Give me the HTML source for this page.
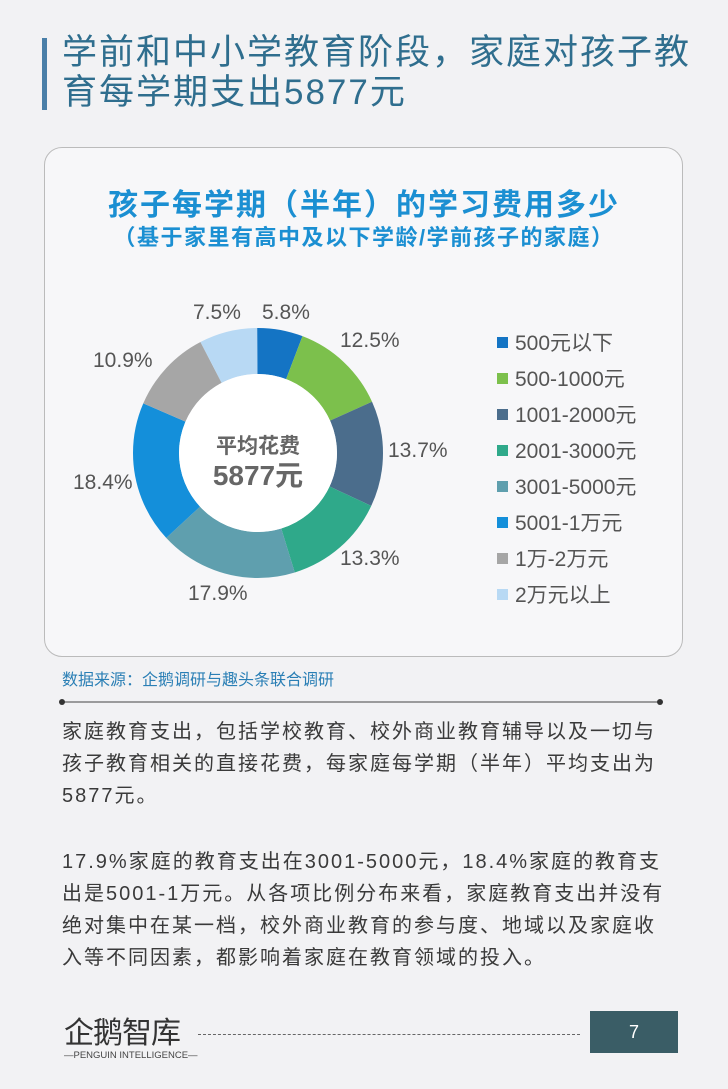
<!DOCTYPE html><html><head><meta charset="utf-8"><style>
body{margin:0;width:728px;height:1089px;background:#f2f2f4;position:relative;overflow:hidden;font-family:"Liberation Sans","Noto Sans CJK SC",sans-serif}
.a{position:absolute;white-space:nowrap}
.t{left:62px;font-size:35px;color:#2f6e8e;line-height:40px;letter-spacing:2px}
.lg{left:497px;font-size:21px;color:#555}
.lg i{display:inline-block;width:11px;height:11px;margin-right:7px;vertical-align:2px}
.p{left:62px;font-size:20px;color:#3a3a3a;line-height:32px;letter-spacing:2px}
.pc{font-size:21px;color:#555}
</style></head><body>
<div class="a" style="left:42px;top:38px;width:5px;height:72px;background:#4a7fa8"></div>
<div class="a t" style="top:33px">学前和中小学教育阶段，家庭对孩子教</div>
<div class="a t" style="top:73px">育每学期支出5877元</div>
<div class="a" style="left:44px;top:147px;width:637px;height:508px;border:1px solid #bbb;border-radius:18px;background:#f7f7f9"></div>
<div class="a" style="left:0;width:728px;text-align:center;top:180px;font-size:30px;font-weight:bold;color:#1b8fd2;letter-spacing:2px">孩子每学期（半年）的学习费用多少</div>
<div class="a" style="left:0;width:728px;text-align:center;top:220px;font-size:22px;font-weight:bold;color:#1b8fd2;letter-spacing:1.5px">（基于家里有高中及以下学龄/学前孩子的家庭）</div>
<svg class="a" style="left:0;top:0" width="728" height="720">
<g transform="rotate(-90 258 453)" fill="none" stroke-width="46">
<circle cx="258" cy="453" r="102" pathLength="100" stroke="#1474c4" stroke-dasharray="5.8 94.2" stroke-dashoffset="0"/>
<circle cx="258" cy="453" r="102" pathLength="100" stroke="#7cc04c" stroke-dasharray="12.5 87.5" stroke-dashoffset="-5.8"/>
<circle cx="258" cy="453" r="102" pathLength="100" stroke="#4b6d8c" stroke-dasharray="13.7 86.3" stroke-dashoffset="-18.3"/>
<circle cx="258" cy="453" r="102" pathLength="100" stroke="#2fa98a" stroke-dasharray="13.3 86.7" stroke-dashoffset="-32"/>
<circle cx="258" cy="453" r="102" pathLength="100" stroke="#5f9fae" stroke-dasharray="17.9 82.1" stroke-dashoffset="-45.3"/>
<circle cx="258" cy="453" r="102" pathLength="100" stroke="#148fda" stroke-dasharray="18.4 81.6" stroke-dashoffset="-63.2"/>
<circle cx="258" cy="453" r="102" pathLength="100" stroke="#a6a6a6" stroke-dasharray="10.9 89.1" stroke-dashoffset="-81.6"/>
<circle cx="258" cy="453" r="102" pathLength="100" stroke="#b8d9f4" stroke-dasharray="7.5 92.5" stroke-dashoffset="-92.5"/>
</g>
<circle cx="258" cy="453" r="79" fill="#fff"/>
<line x1="62" y1="702" x2="660" y2="702" stroke="#444" stroke-width="1"/>
<circle cx="62" cy="702" r="3" fill="#333"/><circle cx="660" cy="702" r="3" fill="#333"/>
</svg>
<div class="a" style="left:198px;width:120px;text-align:center;top:430px;font-size:21px;font-weight:bold;color:#666">平均花费</div>
<div class="a" style="left:193px;width:130px;text-align:center;top:454px;font-size:28px;font-weight:bold;color:#666">5877元</div>
<div class="a pc" style="left:193px;top:301px">7.5%</div>
<div class="a pc" style="left:262px;top:301px">5.8%</div>
<div class="a pc" style="left:340px;top:329px">12.5%</div>
<div class="a pc" style="left:388px;top:439px">13.7%</div>
<div class="a pc" style="left:340px;top:547px">13.3%</div>
<div class="a pc" style="left:188px;top:582px">17.9%</div>
<div class="a pc" style="left:73px;top:471px">18.4%</div>
<div class="a pc" style="left:93px;top:349px">10.9%</div>
<div class="a lg" style="top:327px"><i style="background:#1474c4"></i>500元以下</div>
<div class="a lg" style="top:363px"><i style="background:#7cc04c"></i>500-1000元</div>
<div class="a lg" style="top:399px"><i style="background:#4b6d8c"></i>1001-2000元</div>
<div class="a lg" style="top:435px"><i style="background:#2fa98a"></i>2001-3000元</div>
<div class="a lg" style="top:471px"><i style="background:#5f9fae"></i>3001-5000元</div>
<div class="a lg" style="top:507px"><i style="background:#148fda"></i>5001-1万元</div>
<div class="a lg" style="top:543px"><i style="background:#a6a6a6"></i>1万-2万元</div>
<div class="a lg" style="top:579px"><i style="background:#b8d9f4"></i>2万元以上</div>
<div class="a" style="left:62px;top:666px;font-size:16px;color:#2a7fb5">数据来源：企鹅调研与趣头条联合调研</div>
<div class="a p" style="top:716px">家庭教育支出，包括学校教育、校外商业教育辅导以及一切与<br>孩子教育相关的直接花费，每家庭每学期（半年）平均支出为<br>5877元。</div>
<div class="a p" style="top:846px">17.9%家庭的教育支出在3001-5000元，18.4%家庭的教育支<br>出是5001-1万元。从各项比例分布来看，家庭教育支出并没有<br>绝对集中在某一档，校外商业教育的参与度、地域以及家庭收<br>入等不同因素，都影响着家庭在教育领域的投入。</div>
<div class="a" style="left:64px;top:1008px;font-size:30px;color:#333;letter-spacing:-1px">企鹅智库</div>
<div class="a" style="left:64px;top:1050px;font-size:9.5px;color:#444">—PENGUIN INTELLIGENCE—</div>
<div class="a" style="left:198px;top:1034px;width:382px;border-top:1px dashed #666"></div>
<div class="a" style="left:590px;top:1011px;width:88px;height:42px;background:#3a5d66;color:#fff;font-size:18px;text-align:center;line-height:42px">7</div>
</body></html>
